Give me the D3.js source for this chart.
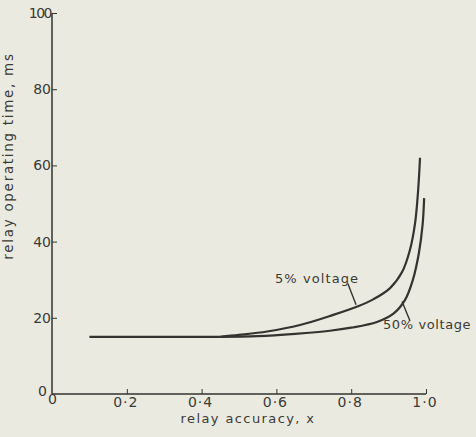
<!DOCTYPE html>
<html>
<head>
<meta charset="utf-8" />
<script src="https://cdn.jsdelivr.net/npm/d3@7"></script>
<style>
    body { margin: 0; background: #ebeae1; }
    text { font-family: "DejaVu Sans", sans-serif; fill: #3a3a36; }
</style>
</head>
<body>
<script>
    // flat part shared by both curves
    var flatX = [0.1, 0.2, 0.3, 0.4, 0.45];
    var flatY = [15, 15, 15, 15, 15];

    // 5% voltage curve
    var v5X = [0.45, 0.5, 0.575, 0.663, 0.75, 0.82, 0.86, 0.904, 0.936, 0.957, 0.971, 0.979, 0.984];
    var v5Y = [15, 15.5, 16.4, 18.1, 20.7, 23.1, 24.9, 27.8, 32, 37.8, 45, 53.5, 62];

    // 50% voltage curve
    var v50X = [0.45, 0.55, 0.65, 0.743, 0.8, 0.869, 0.912, 0.944, 0.965, 0.981, 0.991, 0.995];
    var v50Y = [15, 15.2, 15.8, 16.6, 17.4, 18.9, 21, 24.7, 30, 37, 44.5, 51.4];

    var xTicks = [0, 0.2, 0.4, 0.6, 0.8, 1.0];
    var xTickLabels = ["0", "0·2", "0·4", "0·6", "0·8", "1·0"];
    var yTicks = [0, 20, 40, 60, 80, 100];

    var labels = ["5% voltage", "50% voltage"];
    var labelPos = [[0.596, 29.2], [0.885, 17]];
    var leaders = [[[0.791, 29], [0.813, 23.4]], [[0.936, 24.3], [0.957, 19.2]]];

    var width = 476, height = 437;

    var svg = d3.select("body").append("svg")
        .attr("width", width)
        .attr("height", height);

    var x = d3.scaleLinear().domain([0, 1]).range([52, 426]);
    var y = d3.scaleLinear().domain([0, 100]).range([394, 13]);

    var ink = "#33332f";

    // axes
    var xAxis = svg.append("g").attr("transform", "translate(0," + y(0) + ")")
        .call(d3.axisTop(x).tickValues(xTicks.slice(1)).tickSize(5).tickFormat(""));
    xAxis.select(".domain").attr("stroke", ink).attr("stroke-width", 1.5).attr("d", "M" + x(0) + ",0H" + x(1));
    xAxis.selectAll("line").attr("stroke", ink);

    var yAxis = svg.append("g").attr("transform", "translate(" + x(0) + ",0)")
        .call(d3.axisRight(y).tickValues(yTicks.slice(1)).tickSize(5).tickFormat(""));
    yAxis.select(".domain").attr("stroke", ink).attr("stroke-width", 1.5).attr("d", "M0," + y(0) + "V" + y(100));
    yAxis.selectAll("line").attr("stroke", ink);

    // tick labels
    svg.selectAll(".xl").data(xTicks).enter().append("text")
        .attr("x", function (d) { return x(d) + (d === 0 ? 1 : -1); })
        .attr("y", function (d) { return d === 0 ? 404 : 407; })
        .attr("text-anchor", "middle")
        .attr("font-size", "14px")
        .attr("letter-spacing", "1px")
        .text(function (d, i) { return xTickLabels[i]; });

    svg.selectAll(".yl").data(yTicks).enter().append("text")
        .attr("x", function (d) { return d === 0 ? x(0) - 5 : x(0) - 1; })
        .attr("y", function (d) { return y(d) + 5 - (d === 0 ? 3 : 0); })
        .attr("text-anchor", "end")
        .attr("font-size", "14px")
        .attr("letter-spacing", function (d) { return d === 100 ? "-1.5px" : "0"; })
        .text(function (d) { return d; });

    // axis titles
    svg.append("text")
        .attr("x", 248).attr("y", 423)
        .attr("text-anchor", "middle")
        .attr("font-size", "13px")
        .attr("letter-spacing", "1.4px")
        .text("relay accuracy, x");

    svg.append("text")
        .attr("transform", "translate(13,156) rotate(-90)")
        .attr("text-anchor", "middle")
        .attr("font-size", "13.5px")
        .attr("letter-spacing", "1.7px")
        .text("relay operating time, ms");

    // curves
    var line = d3.line()
        .x(function (d) { return x(d[0]); })
        .y(function (d) { return y(d[1]); })
        .curve(d3.curveCatmullRom.alpha(0.5));

    var series = [
        d3.zip(flatX, flatY),
        d3.zip(v5X, v5Y),
        d3.zip(v50X, v50Y)
    ];

    svg.selectAll(".curve").data(series).enter().append("path")
        .attr("d", line)
        .attr("fill", "none")
        .attr("stroke", ink)
        .attr("stroke-width", 2.2);

    // annotations
    svg.selectAll(".leader").data(leaders).enter().append("line")
        .attr("x1", function (d) { return x(d[0][0]); })
        .attr("y1", function (d) { return y(d[0][1]); })
        .attr("x2", function (d) { return x(d[1][0]); })
        .attr("y2", function (d) { return y(d[1][1]); })
        .attr("stroke", ink)
        .attr("stroke-width", 1.4);

    svg.selectAll(".lab").data(labels).enter().append("text")
        .attr("x", function (d, i) { return x(labelPos[i][0]); })
        .attr("y", function (d, i) { return y(labelPos[i][1]); })
        .attr("font-size", "13px")
        .attr("letter-spacing", function (d, i) { return i === 0 ? "1.1px" : "0.6px"; })
        .text(function (d) { return d; });
</script>
</body>
</html>
